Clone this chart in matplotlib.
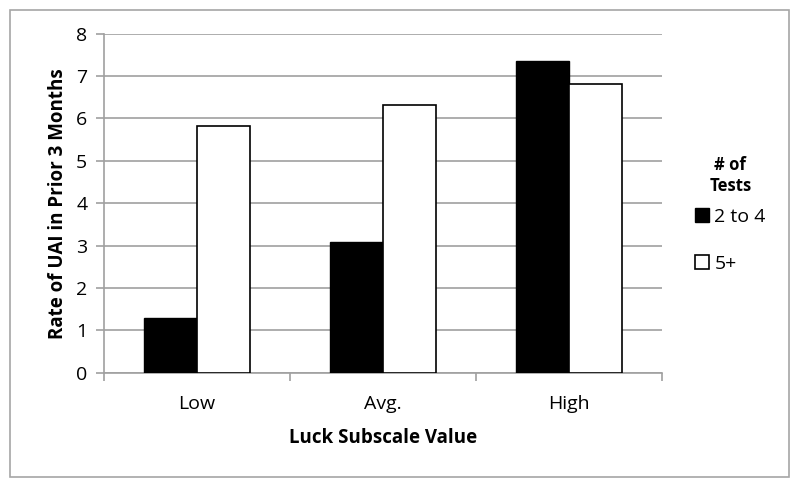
import numpy as np
import matplotlib
matplotlib.use('Agg')
import matplotlib.pyplot as plt
from matplotlib.patches import Rectangle

plt.rcParams['font.family'] = ['Open Sans', 'DejaVu Sans']

categories = ['Low', 'Avg.', 'High']
tests_2_to_4 = [1.28, 3.08, 7.36]
tests_5_plus = [5.83, 6.31, 6.82]
series_labels = ['2 to 4', '5+']

fig = plt.figure(figsize=(8, 4.87), dpi=100)
fig.patches.append(Rectangle((10/800, 10/487), 779/800, 467/487, transform=fig.transFigure,
                             fill=False, edgecolor='#a6a6a6', linewidth=1.2))

ax = fig.add_axes([0.13, 0.2347, 0.6975, 0.6961])
x = np.arange(len(categories))
w = 0.285
b1 = ax.bar(x - w/2, tests_2_to_4, w, color='black', edgecolor='black', linewidth=1, zorder=3)
b2 = ax.bar(x + w/2, tests_5_plus, w, color='white', edgecolor='black', linewidth=1.2, zorder=3)

ax.set_xlim(-0.5, 2.5)
ax.set_ylim(0, 8)
ax.set_yticks(range(0, 9))
ax.yaxis.grid(True, color='#a0a0a0', linewidth=1.2, zorder=0)
ax.set_axisbelow(True)
ax.set_xticks(x)
ax.set_xticklabels(categories, fontsize=14)
ax.tick_params(axis='x', length=0, pad=16)
ax.set_xticks([-0.5, 0.5, 1.5, 2.5], minor=True)
ax.tick_params(axis='x', which='minor', length=6, color='#a0a0a0', width=1.2)
ax.tick_params(axis='y', labelsize=14, length=6, color='#a0a0a0', width=1.2, pad=6)
for s in ['top', 'right']:
    ax.spines[s].set_visible(False)
for s in ['left', 'bottom']:
    ax.spines[s].set_color('#a0a0a0')
    ax.spines[s].set_linewidth(1.2)

ax.set_xlabel('Luck Subscale Value', fontsize=13.5, fontweight='bold', labelpad=11)
ax.set_ylabel('Rate of UAI in Prior 3 Months', fontsize=13.5, fontweight='bold', labelpad=6)

leg = fig.legend([b1, b2], series_labels, loc='upper center', bbox_to_anchor=(0.913, 0.715),
                 frameon=False, fontsize=14, title='# of\nTests',
                 title_fontproperties={'weight': 'bold', 'size': 12},
                 handlelength=0.7, handleheight=0.7, handletextpad=0.3, labelspacing=1.5)
leg.get_title().set_multialignment('center')
leg._legend_box.sep = 9

fig.savefig('out.png', dpi=100)
